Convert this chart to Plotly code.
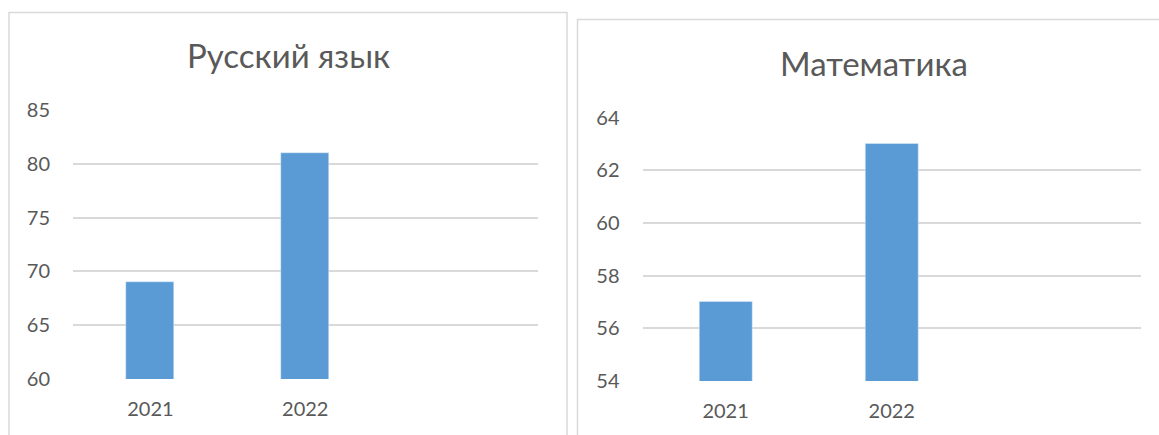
import plotly.graph_objects as go

W, H = 1159, 435

categories = ["2021", "2022", " "]
rus_values = [69, 81, None]
math_values = [57, 63, None]
rus_ticks = [60, 65, 70, 75, 80, 85]
math_ticks = [54, 56, 58, 60, 62, 64]
titles = ["Русский язык", "Математика"]

BAR = "#5b9bd5"
GRID = "#d9d9d9"
TXT = "#595959"
FONT = "Lato"

def px(x):
    return x / W

def py(y):
    return 1 - y / H

fig = go.Figure()
fig.add_trace(go.Bar(x=categories, y=rus_values, marker_color=BAR, width=0.31,
                     xaxis="x", yaxis="y", showlegend=False))
fig.add_trace(go.Bar(x=categories, y=math_values, marker_color=BAR, width=0.32,
                     xaxis="x2", yaxis="y2", showlegend=False))

common_x = dict(showgrid=False, zeroline=False, showline=False, ticks="",
                tickfont=dict(family=FONT, size=20, color=TXT), ticklabelstandoff=16,
                type="category", fixedrange=True, automargin=False)
common_y = dict(showgrid=True, gridcolor=GRID, gridwidth=1.5, zeroline=False, showline=False,
                ticks="", tickfont=dict(family=FONT, size=20, color=TXT), fixedrange=True,
                tickmode="array", ticklabelstandoff=22, automargin=False)

fig.update_layout(
    width=W, height=H, autosize=False,
    margin=dict(l=0, r=0, t=0, b=0, pad=0, autoexpand=False),
    paper_bgcolor="white", plot_bgcolor="white",
    showlegend=False,
    xaxis=dict(domain=[px(73), px(537.5)], anchor="y", **common_x),
    yaxis=dict(domain=[py(379), py(110)], anchor="x", range=[60, 85],
               tickvals=rus_ticks, **common_y),
    xaxis2=dict(domain=[px(642.5), px(1141)], anchor="y2", **common_x),
    yaxis2=dict(domain=[py(381), py(117.7)], anchor="x2", range=[54, 64],
                tickvals=math_ticks, **common_y),
    bargap=0,
)

fig.add_shape(type="rect", xref="paper", yref="paper", x0=px(9), x1=px(567), y0=py(450), y1=py(12.5),
              line=dict(color=GRID, width=1.5), fillcolor="rgba(0,0,0,0)", layer="below")
fig.add_shape(type="rect", xref="paper", yref="paper", x0=px(577.5), x1=px(1175), y0=py(450), y1=py(19.5),
              line=dict(color=GRID, width=1.5), fillcolor="rgba(0,0,0,0)", layer="below")

fig.add_annotation(text=titles[0], xref="paper", yref="paper", x=px(288), y=py(55),
                   showarrow=False, xanchor="center", yanchor="middle",
                   font=dict(family=FONT, size=33, color=TXT))
fig.add_annotation(text=titles[1], xref="paper", yref="paper", x=px(874), y=py(63),
                   showarrow=False, xanchor="center", yanchor="middle",
                   font=dict(family=FONT, size=33, color=TXT))

fig.write_html("out.html", config={"displayModeBar": False},
               post_script="document.body.style.margin='0';document.body.style.overflow='hidden';")
